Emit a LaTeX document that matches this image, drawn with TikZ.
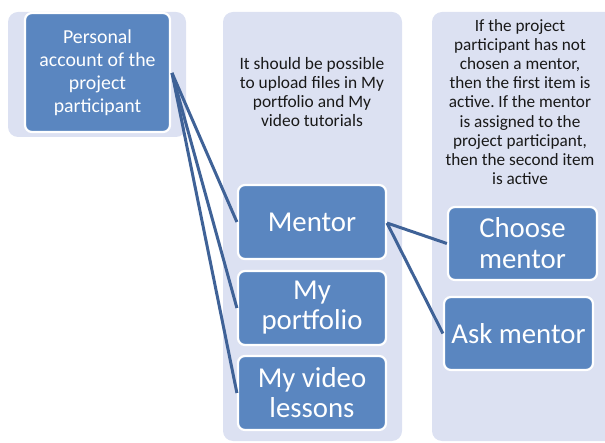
\documentclass[tikz,border=0pt]{standalone}
\usepackage{fontspec}
\setmainfont{Carlito}
\frenchspacing
\definecolor{panelc}{HTML}{DCE1F2}
\definecolor{boxc}{HTML}{5A86C0}
\definecolor{linec}{HTML}{3F6297}
\begin{document}
\begin{tikzpicture}[x=1pt,y=-1pt,
  panel/.style={fill=panelc,rounded corners=10pt},
  itembox/.style={rectangle,draw=white,line width=2.2pt,fill=boxc,rounded corners=7pt,
    text=white,align=center,inner sep=2pt},
  conn/.style={draw=linec,line width=3pt}]
\useasboundingbox (0,0) rectangle (605,443);
\begin{scope}
\clip (0,0) rectangle (605,443);
\fill[panel] (8,12) rectangle (186,137);
\fill[panel] (223,12) rectangle (402,441);
\fill[panel] (432,12) rectangle (620,441);
\end{scope}
\node[align=center,font=\fontsize{17.4}{19.3}\selectfont,text=black!90] (t1) at (312,92)
  {It should be possible\\to upload files in My\\portfolio and My\\video tutorials};
\node[align=center,font=\fontsize{17.2}{19.2}\selectfont,text=black!90] (t2) at (520,102)
  {If the project\\participant has not\\chosen a mentor,\\then the first item is\\active. If the mentor\\is assigned to the\\project participant,\\then the second item\\is active};
\node[itembox,minimum width=145pt,minimum height=119pt,font=\fontsize{19.8}{23}\selectfont] (pers) at (97.5,72.5)
  {Personal\\account of the\\project\\participant};
\node[itembox,minimum width=148pt,minimum height=74pt,font=\fontsize{28.8}{30}\selectfont] (mentor) at (312,222) {Mentor};
\node[itembox,minimum width=148pt,minimum height=74pt,font=\fontsize{28.8}{30}\selectfont] (port) at (312,308) {My\\portfolio};
\node[itembox,minimum width=148pt,minimum height=74pt,font=\fontsize{28.8}{30}\selectfont] (video) at (312,393) {My video\\lessons};
\node[itembox,minimum width=149pt,minimum height=73pt,font=\fontsize{28.8}{31}\selectfont] (choose) at (522.5,243.5) {Choose\\mentor};
\node[itembox,minimum width=149pt,minimum height=73pt,font=\fontsize{28.8}{30}\selectfont] (ask) at (518.5,333.5) {Ask mentor};
\coordinate (ps) at (172,73);
\coordinate (ms) at (387,223);
\draw[conn] (ps) -- (mentor.west);
\draw[conn] (ps) -- (port.west);
\draw[conn] (ps) -- (video.west);
\draw[conn] (ms) -- (choose.west);
\draw[conn] (ms) -- (ask.west);
\end{tikzpicture}
\end{document}
